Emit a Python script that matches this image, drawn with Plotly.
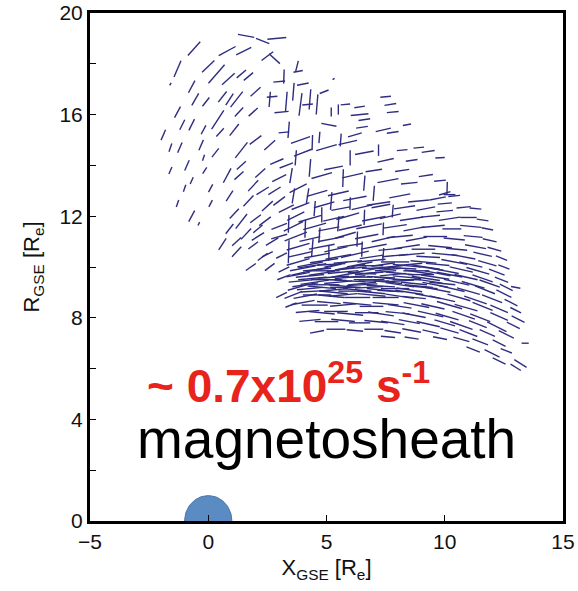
import math
import plotly.graph_objects as go

# Flow-direction vectors: (X_GSE, R_GSE, angle in degrees, length) in Earth radii.
# Dayside / dusk flank, sparse outer region
vec_flank = [
    (-0.6, 18.6, 46, 0.75), (0.8, 18.5, 27, 0.8), (1.5, 18.5, 25, 0.7), (1.6, 19.1, -10, 0.7),
    (2.3, 18.9, -20, 0.6), (2.9, 19.0, 5, 0.8), (2.5, 18.3, 35, 0.6), (2.8, 18.2, -40, 0.6),
    (-1.3, 17.8, 65, 0.7), (0.0, 17.9, 42, 0.7), (0.35, 17.6, 47, 1.0), (0.85, 17.4, 40, 0.7),
    (1.4, 17.6, 38, 0.5), (1.7, 17.5, 38, 0.5), (-1.6, 17.2, 60, 0.12), (-0.7, 17.1, 60, 0.55),
    (-0.55, 16.6, 58, 0.55), (-0.1, 16.5, 50, 0.45), (0.6, 16.7, 50, 0.55), (0.9, 16.6, 55, 0.55),
    (1.2, 16.6, 50, 0.8), (2.0, 16.9, 40, 0.55), (-1.3, 16.1, 60, 0.5), (-1.1, 15.6, 62, 0.45),
    (-0.7, 15.6, 62, 0.5), (0.4, 15.8, 55, 0.9), (0.5, 15.3, 45, 0.45), (1.1, 15.4, 50, 0.6),
    (1.3, 16.1, 45, 0.5), (1.9, 16.1, 40, 0.5), (-1.9, 15.2, 65, 0.45), (-1.6, 14.7, 70, 0.35),
    (-1.2, 14.7, 65, 0.45), (-0.3, 14.8, 65, 0.45), (-0.2, 14.3, 70, 0.25), (0.3, 14.5, 50, 0.45),
    (1.4, 14.6, 50, 0.8), (2.0, 15.0, 35, 0.6), (1.4, 14.0, 40, 0.5), (-1.6, 13.8, 65, 0.3),
    (-0.9, 14.0, 65, 0.45), (-0.7, 13.4, 65, 0.3), (-0.15, 13.8, 55, 0.3), (0.8, 13.6, 60, 0.65),
    (1.3, 13.6, 40, 0.5), (1.9, 13.2, 45, 0.6), (2.2, 13.7, 40, 0.55), (-1.3, 12.5, 70, 0.3),
    (-0.7, 12.0, 60, 0.5), (-0.4, 11.7, 60, 0.15), (0.1, 12.5, 60, 0.3), (1.1, 12.1, 45, 0.55),
    (1.4, 11.8, 50, 0.75), (0.6, 10.9, 55, 0.55), (1.2, 11.0, 40, 0.5), (1.2, 10.6, 45, 0.55),
    (2.0, 11.9, 35, 0.55), (2.1, 11.5, 38, 0.5), (2.1, 11.2, 30, 0.6), (1.9, 10.85, 35, 0.5),
    (1.8, 10.0, 33, 0.5), (2.5, 10.5, 25, 0.5), (2.6, 10.0, 35, 0.5), (3.0, 11.6, 20, 0.7),
    (3.0, 11.2, 15, 0.7), (3.1, 10.45, 25, 0.5), (3.2, 9.9, 25, 0.5), (3.2, 9.6, 20, 0.6),
    (3.1, 8.9, 25, 0.5), (3.5, 8.5, 20, 0.5), (3.4, 11.7, 88, 0.7), (3.4, 10.6, 88, 0.9),
    (2.6, 14.8, 40, 0.6), (2.9, 14.15, 22, 0.6), (3.0, 13.5, 25, 0.65), (2.3, 13.0, 30, 0.6),
    (2.5, 12.4, 40, 0.6), (3.0, 12.6, 35, 0.6), (3.3, 14.0, 20, 0.6), (3.5, 13.6, 80, 0.6),
    (3.3, 12.3, 25, 0.7), (0.9, 12.8, 55, 0.5), (1.7, 12.6, 45, 0.6), (2.4, 11.8, 35, 0.6),
    (2.7, 11.0, 30, 0.6), (2.3, 10.4, 35, 0.5), (0.9, 11.5, 50, 0.5), (1.6, 11.3, 45, 0.6),
    (2.8, 13.0, 30, 0.6), (-0.2, 15.4, 60, 0.4), (0.1, 13.1, 60, 0.35), (-1.0, 13.1, 70, 0.3),
]

# High-latitude region with mixed horizontal / vertical vectors
vec_cusp = [
    (3.0, 17.3, 5, 0.5), (3.2, 17.5, 88, 0.55), (3.3, 16.5, 85, 0.8), (2.7, 16.7, 5, 0.45),
    (2.6, 16.6, 85, 0.6), (3.1, 16.1, 5, 0.6), (3.4, 15.4, 85, 0.65), (3.2, 15.3, 5, 0.45),
    (3.8, 17.7, 10, 0.4), (3.75, 17.9, 75, 0.45), (3.9, 16.4, 82, 0.9), (4.3, 16.6, 85, 0.8),
    (4.6, 16.4, 85, 0.8), (4.2, 16.4, 5, 0.45), (5.2, 16.1, 90, 0.35), (5.5, 16.2, 90, 0.4),
    (5.3, 17.4, 30, 0.1), (6.4, 16.3, 8, 0.45), (6.4, 16.0, 5, 0.75), (7.5, 16.7, 5, 0.45),
    (7.7, 16.4, 8, 0.5), (7.8, 16.1, 5, 0.5), (8.4, 15.6, 10, 0.35), (7.4, 15.4, 12, 0.65),
    (7.8, 15.3, 8, 0.5), (6.6, 15.8, 8, 0.5), (6.5, 15.5, 8, 0.5), (5.1, 15.6, -10, 0.65),
    (4.7, 15.1, 85, 0.45), (3.9, 15.0, 18, 0.85), (8.9, 14.7, 5, 0.45), (8.2, 14.6, 5, 0.45),
    (8.6, 14.2, 8, 0.5), (9.3, 14.55, 8, 0.55), (8.2, 13.8, 8, 0.6), (7.0, 13.8, 8, 0.7),
    (4.0, 14.5, 20, 0.8), (4.4, 14.9, 88, 0.6), (5.0, 14.7, 15, 0.9), (5.6, 15.0, 85, 0.5),
    (5.9, 14.9, 12, 0.8), (6.0, 14.3, 90, 0.6), (6.6, 14.5, 10, 0.8), (6.2, 15.2, 15, 0.6),
    (7.2, 14.6, 90, 0.45), (7.5, 14.2, 12, 0.7), (4.3, 13.9, 85, 0.7), (4.8, 13.6, 15, 0.9),
    (5.3, 13.9, 10, 0.8), (5.7, 13.5, 88, 0.7), (6.1, 13.6, 12, 0.9), (6.6, 13.3, 85, 0.6),
    (7.6, 13.4, 10, 0.9), (8.5, 13.3, 5, 0.7), (9.2, 13.6, 8, 0.6), (9.8, 13.4, 5, 0.5),
    (3.8, 13.1, 25, 0.8), (4.2, 12.8, 80, 0.6), (4.6, 12.9, 15, 0.9), (5.2, 12.6, 85, 0.7),
    (5.5, 12.9, 12, 0.9), (6.2, 12.7, 10, 1.0), (7.0, 12.9, 85, 0.6), (7.2, 12.5, 8, 1.0),
    (8.1, 12.8, 10, 0.9), (8.9, 12.6, 5, 0.9), (9.7, 12.7, 10, 0.7), (10.4, 12.8, 5, 0.5),
    (9.8, 14.3, 3, 0.4), (10.0, 12.9, 15, 0.5), (10.1, 13.1, 88, 0.5), (10.2, 12.85, 0, 0.5),
    (10.0, 12.5, 5, 0.6), (3.6, 16.9, 85, 0.7), (4.0, 17.2, 10, 0.5), (3.7, 14.3, 85, 0.6),
    (3.6, 12.8, 80, 0.6), (4.9, 16.9, 20, 0.4), (5.8, 16.4, 5, 0.4),
]

# Flank magnetosheath, dense part
vec_dense = [
    (3.9, 12.4, 20, 0.8), (4.5, 12.3, 85, 0.6), (4.9, 12.45, 15, 0.9), (5.6, 12.3, 10, 0.8),
    (6.0, 12.5, 88, 0.5), (6.5, 12.35, 12, 0.9), (7.3, 12.4, 10, 0.8), (7.8, 12.2, 85, 0.5),
    (8.3, 12.35, 8, 0.9), (9.2, 12.3, 10, 0.8), (10.0, 12.2, 5, 0.7), (10.8, 12.35, 5, 0.6),
    (11.3, 12.3, -5, 0.5),
    (3.7, 12.0, 25, 0.8), (4.3, 11.9, 15, 1.0), (4.8, 12.05, 90, 0.6), (5.3, 11.9, 12, 0.9),
    (5.9, 12.0, 15, 1.0), (6.6, 11.95, 88, 0.6), (7.0, 11.9, 10, 1.0), (7.7, 12.0, 12, 0.9),
    (8.6, 11.9, 8, 1.0), (9.4, 12.0, 5, 0.8), (10.2, 11.9, 8, 0.9), (11.0, 11.95, 0, 0.7),
    (11.6, 11.85, -8, 0.5),
    (3.6, 11.6, 25, 0.9), (4.1, 11.5, 88, 0.7), (4.5, 11.6, 15, 1.0), (5.1, 11.5, 10, 0.9),
    (5.5, 11.7, 85, 0.6), (6.0, 11.55, 12, 1.0), (6.8, 11.6, 10, 1.1), (7.4, 11.5, 88, 0.5),
    (7.9, 11.6, 8, 1.0), (8.7, 11.5, 10, 0.9), (9.5, 11.6, 5, 1.0), (10.3, 11.5, 0, 0.8),
    (11.1, 11.6, -5, 0.9), (11.8, 11.5, -10, 0.5),
    (3.7, 11.2, 20, 1.0), (4.3, 11.1, 12, 0.9), (4.7, 11.25, 85, 0.6), (5.2, 11.1, 10, 1.1),
    (5.8, 11.25, 15, 0.9), (6.3, 11.1, 88, 0.6), (6.7, 11.2, 10, 1.0), (7.4, 11.1, 12, 1.0),
    (8.1, 11.2, 5, 1.1), (8.8, 11.1, 10, 0.9), (9.6, 11.2, 0, 1.0), (10.4, 11.1, -5, 0.9),
    (11.2, 11.2, -5, 0.8), (11.9, 11.05, -12, 0.6),
    (3.8, 10.8, 15, 1.0), (4.4, 10.75, 85, 0.7), (4.8, 10.8, 10, 1.1), (5.4, 10.7, 12, 1.0),
    (6.0, 10.85, 8, 1.1), (6.5, 10.7, 88, 0.6), (7.0, 10.8, 10, 1.1), (7.7, 10.7, 5, 1.0),
    (8.4, 10.8, 8, 1.1), (9.1, 10.7, 0, 1.0), (9.8, 10.8, -5, 1.0), (10.5, 10.7, -5, 0.9),
    (11.3, 10.8, -10, 0.9), (12.1, 10.7, -15, 0.6),
    (3.9, 10.5, 12, 1.0), (4.6, 10.45, 10, 1.1), (5.1, 10.55, 90, 0.6), (5.5, 10.4, 10, 1.1),
    (6.2, 10.5, 12, 1.2), (6.9, 10.4, 8, 1.0), (7.4, 10.5, 85, 0.5), (7.9, 10.45, 5, 1.1),
    (8.6, 10.5, 5, 1.1), (9.3, 10.4, -3, 1.0), (10.0, 10.5, -5, 1.1), (10.8, 10.4, -10, 1.0),
    (11.6, 10.5, -12, 0.8), (12.4, 10.35, -20, 0.5),
    (3.8, 10.2, 15, 1.0), (4.3, 10.1, 10, 1.1), (4.9, 10.25, 8, 1.2), (5.4, 10.1, 12, 1.0),
    (5.9, 10.2, 5, 1.2), (6.4, 10.1, 10, 1.1), (6.9, 10.25, 5, 1.2), (7.4, 10.1, 8, 1.0),
    (7.9, 10.2, 0, 1.2), (8.5, 10.1, 5, 1.1), (9.1, 10.2, -5, 1.1), (9.7, 10.1, -5, 1.0),
    (10.4, 10.2, -10, 1.1), (11.1, 10.1, -12, 1.0), (11.8, 10.15, -15, 0.8), (12.5, 10.0, -20, 0.5),
    (4.0, 9.95, 10, 1.1), (4.6, 9.9, 5, 1.2), (5.1, 10.0, 12, 1.1), (5.6, 9.9, 8, 1.2),
    (6.1, 9.95, 5, 1.2), (6.6, 9.85, 10, 1.1), (7.1, 9.95, 0, 1.2), (7.6, 9.9, 5, 1.1),
    (8.2, 9.95, -3, 1.2), (8.8, 9.85, 0, 1.1), (9.4, 9.95, -8, 1.1), (10.0, 9.85, -10, 1.2),
    (10.7, 9.9, -12, 1.0), (11.4, 9.85, -15, 1.0), (12.2, 9.8, -20, 0.7),
    (3.8, 9.7, 10, 1.0), (4.3, 9.65, 5, 1.2), (4.8, 9.75, 8, 1.1), (5.3, 9.6, 3, 1.3),
    (5.8, 9.7, 10, 1.2), (6.3, 9.6, 0, 1.3), (6.8, 9.75, 5, 1.2), (7.3, 9.6, -3, 1.2),
    (7.8, 9.7, 5, 1.1), (8.4, 9.6, -5, 1.2), (9.0, 9.7, 0, 1.1), (9.6, 9.6, -8, 1.2),
    (10.2, 9.7, -10, 1.1), (10.9, 9.6, -12, 1.0), (11.6, 9.55, -18, 0.9), (12.4, 9.5, -20, 0.6),
    (3.9, 9.45, 5, 1.0), (4.5, 9.4, 8, 1.2), (5.0, 9.5, 0, 1.3), (5.5, 9.4, 5, 1.2),
    (6.0, 9.45, -3, 1.3), (6.5, 9.35, 5, 1.2), (7.0, 9.45, 0, 1.3), (7.6, 9.4, -5, 1.2),
    (8.1, 9.45, 3, 1.2), (8.7, 9.35, -5, 1.1), (9.3, 9.45, -8, 1.2), (9.9, 9.35, -5, 1.1),
    (10.5, 9.4, -12, 1.1), (11.2, 9.3, -15, 1.0), (11.9, 9.35, -18, 0.9), (12.6, 9.2, -25, 0.6),
    (3.8, 9.2, 15, 0.9), (4.3, 9.15, 5, 1.1), (4.8, 9.2, -5, 1.2), (5.3, 9.1, 5, 1.2),
    (5.8, 9.2, 0, 1.3), (6.3, 9.1, -5, 1.2), (6.8, 9.2, 3, 1.2), (7.3, 9.1, -5, 1.2),
    (7.9, 9.15, 0, 1.2), (8.5, 9.1, -8, 1.1), (9.1, 9.2, -5, 1.2), (9.7, 9.1, -10, 1.1),
    (10.3, 9.15, -12, 1.1), (11.0, 9.05, -15, 1.0), (11.7, 9.1, -20, 0.9), (12.5, 8.95, -25, 0.7),
    (13.0, 9.2, -10, 0.4),
    (3.6, 8.9, 20, 0.8), (4.1, 8.85, 10, 1.0), (4.6, 8.9, 0, 1.2), (5.2, 8.85, -5, 1.1),
    (5.7, 8.9, 5, 1.2), (6.3, 8.8, 0, 1.1), (6.9, 8.9, -5, 1.2), (7.5, 8.8, 0, 1.1),
    (8.1, 8.85, -8, 1.2), (8.7, 8.8, -5, 1.0), (9.3, 8.85, -10, 1.1), (9.9, 8.75, -12, 1.1),
    (10.6, 8.8, -15, 1.0), (11.3, 8.7, -18, 1.0), (12.0, 8.75, -20, 0.9), (12.8, 8.6, -25, 0.6),
    (4.0, 8.6, 10, 1.0), (4.5, 8.5, 0, 1.1), (5.1, 8.6, -5, 1.0), (5.7, 8.5, 5, 1.1),
    (6.3, 8.55, -5, 1.2), (6.9, 8.45, 0, 1.0), (7.5, 8.55, -5, 1.1), (8.1, 8.45, -8, 1.0),
    (8.8, 8.5, -10, 1.1), (9.5, 8.45, -12, 1.0), (10.2, 8.5, -15, 1.1), (10.9, 8.4, -15, 1.0),
    (11.6, 8.45, -20, 0.9), (12.3, 8.35, -22, 0.8), (13.0, 8.3, -25, 0.5),
    (4.2, 8.25, 5, 1.0), (4.8, 8.2, -5, 1.1), (5.4, 8.25, 0, 1.0), (6.0, 8.15, -5, 1.1),
    (6.7, 8.2, 0, 1.0), (7.3, 8.15, -8, 1.1), (8.0, 8.2, -5, 1.0), (8.7, 8.1, -10, 1.0),
    (9.4, 8.15, -12, 1.1), (10.1, 8.05, -15, 1.0), (10.8, 8.1, -18, 1.0), (11.5, 8.0, -20, 0.9),
    (12.3, 8.05, -22, 0.8), (13.1, 7.95, -25, 0.6),
    (4.3, 7.9, 5, 0.9), (5.0, 7.85, 0, 1.0), (5.7, 7.9, -5, 1.0), (6.4, 7.8, 0, 0.9),
    (7.1, 7.85, -5, 1.0), (7.8, 7.8, -8, 1.0), (8.5, 7.85, -10, 0.9), (9.3, 7.75, -12, 1.0),
    (10.0, 7.8, -15, 0.9), (10.7, 7.7, -18, 1.0), (11.4, 7.75, -20, 0.8), (12.2, 7.65, -25, 0.9),
    (12.9, 7.7, -25, 0.6),
    (4.6, 7.45, 10, 0.6), (5.4, 7.55, 0, 0.8), (6.2, 7.5, -5, 0.7), (7.0, 7.55, 0, 0.8),
    (7.8, 7.45, -8, 0.7), (8.6, 7.5, -10, 0.8), (9.4, 7.45, -12, 0.7), (10.2, 7.5, -15, 0.8),
    (11.0, 7.4, -20, 0.8), (11.8, 7.4, -22, 0.7), (12.6, 7.35, -25, 0.7), (13.4, 7.0, 0, 0.3),
    (7.6, 7.25, -5, 0.6), (8.6, 7.2, -8, 0.6), (9.8, 7.2, -10, 0.6), (10.7, 7.15, -15, 0.7),
    (11.5, 7.05, -20, 0.7), (12.3, 7.0, -25, 0.6),
    (11.2, 6.75, -20, 0.6), (12.0, 6.6, -25, 0.7), (12.6, 6.7, -20, 0.5),
    (12.3, 6.3, -25, 0.6), (13.2, 6.2, -30, 0.6), (13.0, 6.05, -30, 0.5),
]

# Extra vectors in the densest part of the flank
vec_core = [
    (4.4, 10.05, 8, 1.2), (5.2, 10.1, 3, 1.2), (6.0, 10.0, 10, 1.3), (6.8, 10.05, 0, 1.2),
    (7.6, 10.0, 5, 1.3), (8.4, 10.05, -5, 1.2), (9.2, 10.0, -8, 1.2),
    (4.1, 9.8, 12, 1.2), (4.9, 9.85, 0, 1.3), (5.7, 9.8, 5, 1.3), (6.5, 9.75, -3, 1.2),
    (7.3, 9.8, 5, 1.3), (8.1, 9.75, -5, 1.2), (8.9, 9.8, -8, 1.2), (9.7, 9.75, -10, 1.1),
    (4.4, 9.55, 5, 1.2), (5.2, 9.5, -3, 1.3), (6.0, 9.6, 5, 1.3), (6.8, 9.5, 0, 1.3),
    (7.6, 9.55, -5, 1.2), (8.4, 9.5, 0, 1.2), (9.2, 9.55, -8, 1.2),
    (4.1, 9.3, 8, 1.1), (4.9, 9.3, 0, 1.3), (5.7, 9.25, -5, 1.2), (6.5, 9.3, 3, 1.3),
    (7.3, 9.25, -3, 1.2), (8.1, 9.3, -8, 1.2), (8.9, 9.25, -5, 1.2), (9.6, 9.3, -10, 1.1),
    (4.5, 9.05, 3, 1.2), (5.3, 9.0, -5, 1.2), (6.1, 9.05, 0, 1.2), (6.9, 9.0, -5, 1.2),
    (7.7, 9.05, -3, 1.1), (8.5, 9.0, -8, 1.2),
]

earth_radius = 1.0
rate_label = "~ 0.7x10<sup>25</sup> s<sup>-1</sup>"
region_label = "magnetosheath"

FONT = "Liberation Sans, Arial, Helvetica, sans-serif"
NAVY = "#2e2d7f"

xs, ys = [], []
for group in (vec_flank, vec_cusp, vec_dense, vec_core):
    for x, r, ang, length in group:
        dx = 0.5 * length * math.cos(math.radians(ang))
        dr = 0.5 * length * math.sin(math.radians(ang))
        xs += [x - dx, x + dx, None]
        ys += [r - dr, r + dr, None]

fig = go.Figure()
fig.add_trace(go.Scatter(
    x=xs, y=ys, mode="lines",
    line=dict(color=NAVY, width=1.4),
    hoverinfo="skip", showlegend=False,
))

# Earth: upper half-disc sitting on the X axis
theta = [math.pi * k / 60 for k in range(61)]
fig.add_trace(go.Scatter(
    x=[earth_radius * math.cos(t) for t in theta],
    y=[earth_radius * math.sin(t) for t in theta],
    mode="lines", fill="toself", fillcolor="#5b8bc3",
    line=dict(color="#4a74a8", width=1),
    hoverinfo="skip", showlegend=False,
))

fig.add_annotation(
    x=0.419, y=0.272, xref="paper", yref="paper",
    text=f"<b>{rate_label}</b>", showarrow=False,
    font=dict(family=FONT, size=46, color="#e8231b"),
    xanchor="center", yanchor="middle",
)
fig.add_annotation(
    x=0.499, y=0.162, xref="paper", yref="paper",
    text=region_label, showarrow=False,
    font=dict(family=FONT, size=55, color="black"),
    xanchor="center", yanchor="middle",
)

axis_common = dict(
    showline=True, linewidth=3, linecolor="black", mirror=True,
    showgrid=False, zeroline=False, automargin=False,
    ticks="inside", ticklen=6, tickwidth=1.2, tickcolor="black",
    tickfont=dict(family=FONT, size=21, color="#111"),
)

fig.update_xaxes(
    range=[-5, 15], tickvals=[-5, 0, 5, 10, 15],
    title=dict(text="X<sub>GSE</sub> [R<sub>e</sub>]",
               font=dict(family=FONT, size=22, color="#111"), standoff=8),
    **axis_common,
)
fig.update_yaxes(
    range=[0, 20], tick0=0, dtick=4,
    minor=dict(dtick=2, ticks="inside", ticklen=6, tickwidth=1.2, tickcolor="black"),
    title=dict(text="R<sub>GSE</sub> [R<sub>e</sub>]",
               font=dict(family=FONT, size=22, color="#111"), standoff=14),
    **axis_common,
)

fig.update_layout(
    width=578, height=591,
    margin=dict(l=90, r=15, t=13, b=70),
    plot_bgcolor="white", paper_bgcolor="white",
    showlegend=False,
)

fig.write_html("out.html")
